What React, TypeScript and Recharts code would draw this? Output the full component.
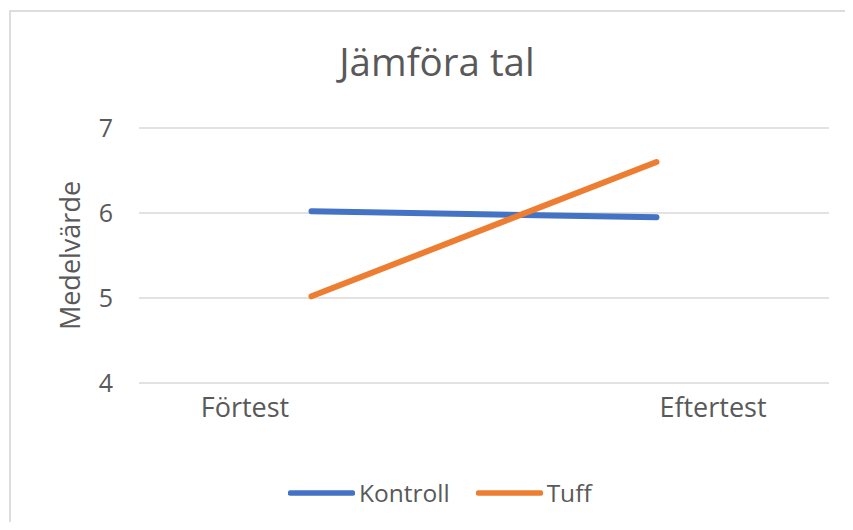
import { LineChart, Line, XAxis, YAxis, CartesianGrid, Legend } from "recharts";

const CATEGORIES = ["Förtest", "Eftertest"];
const KONTROLL = [6.02, 5.95];
const TUFF = [5.02, 6.6];
const Y_TICKS = [4, 5, 6, 7];
const TITLE = "Jämföra tal";
const Y_LABEL = "Medelvärde";

const SERIES = [
  { key: "Kontroll", values: KONTROLL, color: "#4472C4" },
  { key: "Tuff", values: TUFF, color: "#ED7D31" },
];

const data = CATEGORIES.map((name, i) => {
  const row: Record<string, string | number> = { name };
  SERIES.forEach((s) => {
    row[s.key] = s.values[i];
  });
  return row;
});

const FONT = "'Open Sans', sans-serif";
const TEXT = "#595959";
const GRID = "#D9D9D9";

// Excel puts the category labels off the point centres
const TICK_SHIFT = [-66.5, 56.5];

function CategoryTick(props: any) {
  const { x, y, payload, index } = props;
  const i = index ?? payload?.index ?? 0;
  return (
    <text
      x={x + (TICK_SHIFT[i] ?? 0)}
      y={y + 34}
      textAnchor="middle"
      fill={TEXT}
      fontSize={27}
      fontFamily={FONT}
    >
      {payload.value}
    </text>
  );
}

function AxisTitle(props: any) {
  const vb = props.viewBox || {};
  const cx = vb.x + 10;
  const cy = vb.y + vb.height / 2;
  return (
    <text
      x={cx}
      y={cy}
      transform={`rotate(-90 ${cx} ${cy})`}
      textAnchor="middle"
      dominantBaseline="central"
      fill={TEXT}
      fontSize={27}
      fontFamily={FONT}
    >
      {props.value}
    </text>
  );
}

function LegendBox(props: any) {
  const items = props.payload?.length
    ? props.payload
    : SERIES.map((s) => ({ value: s.key, color: s.color }));
  return (
    <div style={{ display: "flex", alignItems: "center" }}>
      {items.map((item: any) => (
        <div
          key={item.value}
          style={{ display: "flex", alignItems: "center", marginRight: 26 }}
        >
          <svg width={67} height={10}>
            <line
              x1={2.5}
              x2={64.5}
              y1={5}
              y2={5}
              stroke={item.color}
              strokeWidth={5.5}
              strokeLinecap="round"
            />
          </svg>
          <span
            style={{
              marginLeft: 4,
              fontFamily: FONT,
              fontSize: 24.5,
              lineHeight: "30px",
              color: TEXT,
            }}
          >
            {item.value}
          </span>
        </div>
      ))}
    </div>
  );
}

export default function App() {
  return (
    <div
      style={{
        position: "relative",
        width: 837,
        height: 514,
        overflow: "hidden",
        background: "#fff",
      }}
    >
      <div
        style={{
          position: "absolute",
          left: 1,
          top: 2,
          width: 900,
          height: 600,
          border: "2px solid #DDDDDD",
          boxSizing: "border-box",
          pointerEvents: "none",
        }}
      />
      <div
        style={{
          position: "absolute",
          left: 0,
          width: 858,
          top: 34,
          textAlign: "center",
          fontFamily: FONT,
          fontSize: 38.5,
          lineHeight: "38px",
          color: TEXT,
        }}
      >
        {TITLE}
      </div>
      <LineChart
        width={837}
        height={514}
        data={data}
        margin={{ top: 120, right: 16, bottom: 89, left: 51 }}
      >
        <CartesianGrid vertical={false} stroke={GRID} strokeWidth={1.5} />
        <XAxis
          dataKey="name"
          type="category"
          height={50}
          padding={{ left: 172.5, right: 172.5 }}
          axisLine={false}
          tickLine={false}
          tickSize={0}
          tickMargin={0}
          tick={(p: any) => <CategoryTick {...p} />}
        />
        <YAxis
          type="number"
          domain={[4, 7]}
          ticks={Y_TICKS}
          width={80}
          axisLine={false}
          tickLine={false}
          tickSize={0}
          tickMargin={26}
          tick={{ fill: TEXT, fontSize: 25, fontFamily: FONT }}
          label={{ value: Y_LABEL, content: AxisTitle }}
        />
        {SERIES.map((s) => (
          <Line
            key={s.key}
            type="linear"
            dataKey={s.key}
            stroke={s.color}
            strokeWidth={6}
            strokeLinecap="round"
            dot={false}
            activeDot={false}
            isAnimationActive={false}
          />
        ))}
        <Legend
          layout="horizontal"
          verticalAlign="middle"
          align="center"
          wrapperStyle={{ top: 470, left: 280, width: "auto" }}
          content={(p: any) => <LegendBox {...p} />}
        />
      </LineChart>
    </div>
  );
}
